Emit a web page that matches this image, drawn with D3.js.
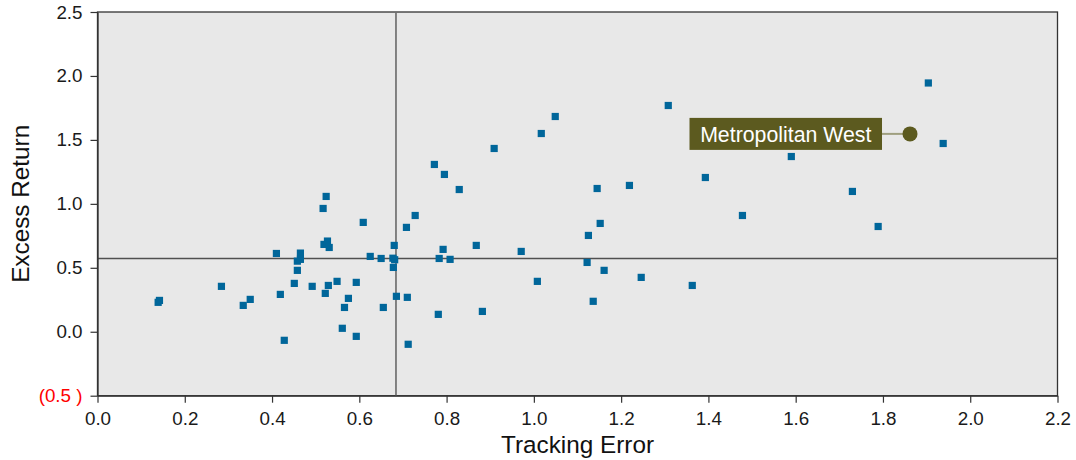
<!DOCTYPE html>
<html>
<head>
<meta charset="utf-8">
<script src="https://cdn.jsdelivr.net/npm/d3@7"></script>
<style>
  html, body { margin: 0; padding: 0; background: #ffffff; }
  svg { display: block; font-family: "Liberation Sans", Arial, sans-serif; }
</style>
</head>
<body>
<svg id="chart" width="1076" height="460"></svg>
<script>
// ---- data ----
const trackingError = [
  0.139, 0.142, 0.284, 0.334, 0.350, 0.410, 0.419, 0.428, 0.451, 0.458,
  0.458, 0.465, 0.465, 0.492, 0.517, 0.524, 0.519, 0.527, 0.531, 0.522,
  0.529, 0.549, 0.561, 0.566, 0.575, 0.593, 0.593, 0.609, 0.625, 0.650,
  0.655, 0.677, 0.681, 0.680, 0.678, 0.685, 0.710, 0.712, 0.708, 0.728,
  0.772, 0.795, 0.829, 0.909, 0.792, 0.783, 0.808, 0.868, 0.971, 1.008,
  0.781, 0.882, 1.017, 1.049, 1.308, 1.145, 1.219, 1.152, 1.125, 1.122,
  1.161, 1.246, 1.363, 1.136, 1.904, 1.938, 1.590, 1.393, 1.730, 1.478,
  1.789
];
const excessReturn = [
  0.230, 0.245, 0.355, 0.206, 0.253, 0.612, 0.292, -0.067, 0.378, 0.480,
  0.552, 0.615, 0.566, 0.355, 0.964, 1.058, 0.683, 0.709, 0.659, 0.300,
  0.362, 0.394, 0.027, 0.190, 0.261, 0.386, -0.036, 0.855, 0.589, 0.573,
  0.190, 0.575, 0.563, 0.675, 0.503, 0.277, 0.269, -0.098, 0.816, 0.909,
  1.308, 1.230, 1.112, 1.433, 0.644, 0.573, 0.566, 0.675, 0.628, 0.394,
  0.136, 0.159, 1.550, 1.683, 1.769, 1.120, 1.144, 0.847, 0.753, 0.542,
  0.480, 0.425, 0.362, 0.238, 1.945, 1.472, 1.370, 1.206, 1.097, 0.909,
  0.823
];
const highlightName = ["Metropolitan West"];
const highlightX = [1.862];
const highlightY = [1.547];
const meanTrackingError = 0.684;
const meanExcessReturn = 0.573;
const xTicks = [0.0, 0.2, 0.4, 0.6, 0.8, 1.0, 1.2, 1.4, 1.6, 1.8, 2.0, 2.2];
const yTicks = [-0.5, 0.0, 0.5, 1.0, 1.5, 2.0, 2.5];
const xTitle = "Tracking Error";
const yTitle = "Excess Return";

// ---- layout ----
const W = 1076, H = 460;
const m = { left: 97.5, right: 18.5, top: 12, bottom: 64.3 };
const svg = d3.select("#chart");

const x = d3.scaleLinear().domain([0, 2.2]).range([m.left, W - m.right]);
const y = d3.scaleLinear().domain([-0.5, 2.5]).range([H - m.bottom, m.top]);

// plot background
svg.append("rect")
  .attr("x", x(0)).attr("y", y(2.5))
  .attr("width", x(2.2) - x(0)).attr("height", y(-0.5) - y(2.5))
  .attr("fill", "#e8e8e8")
  .attr("stroke", "#333").attr("stroke-width", 1.3);

// mean lines
svg.append("line")
  .attr("x1", x(0)).attr("x2", x(2.2))
  .attr("y1", y(meanExcessReturn)).attr("y2", y(meanExcessReturn))
  .attr("stroke", "#505050").attr("stroke-width", 1.5);
svg.append("line")
  .attr("x1", x(meanTrackingError)).attr("x2", x(meanTrackingError))
  .attr("y1", y(2.5)).attr("y2", y(-0.5))
  .attr("stroke", "#707070").attr("stroke-width", 1.7);

// axes
const fmtY = d => d < 0 ? "(" + d3.format(".1f")(-d) + " )" : d3.format(".1f")(d);
const gx = svg.append("g")
  .attr("transform", `translate(0,${y(-0.5)})`)
  .call(d3.axisBottom(x).tickValues(xTicks).tickFormat(d3.format(".1f"))
        .tickSize(7).tickPadding(9).tickSizeOuter(0));
const gy = svg.append("g")
  .attr("transform", `translate(${x(0)},0)`)
  .call(d3.axisLeft(y).tickValues(yTicks).tickFormat(fmtY)
        .tickSize(7).tickPadding(8).tickSizeOuter(0));
[gx, gy].forEach(g => {
  g.select(".domain").attr("stroke", "#333").attr("stroke-width", 1.3);
  g.selectAll(".tick line").attr("stroke", "#333").attr("stroke-width", 1.2);
  g.selectAll(".tick text").attr("font-size", 18.8).attr("fill", "#1a1a1a")
    .attr("font-family", "'Liberation Sans', Arial, sans-serif");
});
gy.selectAll(".tick text").attr("fill", d => d < 0 ? "#ff0000" : "#1a1a1a");

// titles
svg.append("text")
  .attr("x", (x(0) + x(2.2)) / 2).attr("y", 453)
  .attr("text-anchor", "middle").attr("font-size", 24.3).attr("fill", "#111")
  .text(xTitle);
svg.append("text")
  .attr("transform", `translate(29,${(y(-0.5) + y(2.5)) / 2}) rotate(-90)`)
  .attr("text-anchor", "middle").attr("font-size", 24.3).attr("fill", "#111")
  .text(yTitle);

// points
const pts = trackingError.map((v, i) => ({ x: v, y: excessReturn[i] }));
const s = 7.2;
svg.append("g").selectAll("rect").data(pts).join("rect")
  .attr("x", d => x(d.x) - s / 2).attr("y", d => y(d.y) - s / 2)
  .attr("width", s).attr("height", s)
  .attr("fill", "#00669a");

// highlight
const hl = highlightName.map((n, i) => ({ name: n, x: highlightX[i], y: highlightY[i] }));
const hg = svg.append("g").selectAll("g").data(hl).join("g");
const boxW = 192.5, boxH = 32, gap = 28;
hg.append("line")
  .attr("x1", d => x(d.x) - gap).attr("x2", d => x(d.x))
  .attr("y1", d => y(d.y)).attr("y2", d => y(d.y))
  .attr("stroke", "#9f9f7f").attr("stroke-width", 2);
hg.append("rect")
  .attr("x", d => x(d.x) - gap - boxW).attr("y", d => y(d.y) - boxH / 2)
  .attr("width", boxW).attr("height", boxH)
  .attr("fill", "#5c5a1f");
hg.append("text")
  .attr("x", d => x(d.x) - gap - boxW / 2).attr("y", d => y(d.y) + 7.8)
  .attr("text-anchor", "middle").attr("font-size", 21.3).attr("fill", "#ffffff")
  .text(d => d.name);
hg.append("circle")
  .attr("cx", d => x(d.x)).attr("cy", d => y(d.y)).attr("r", 7.5)
  .attr("fill", "#5c5a1f");
</script>
</body>
</html>
